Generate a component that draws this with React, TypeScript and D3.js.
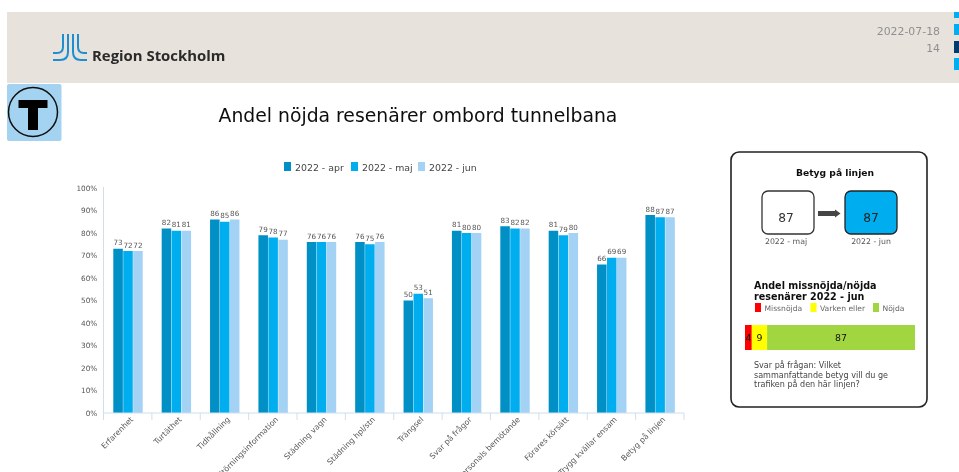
import React from "react";
import * as d3 from "d3";

const categories = ["Erfarenhet","Turtäthet","Tidhållning","Störningsinformation","Städning vagn","Städning hpl/stn","Trängsel","Svar på frågor","Personals bemötande","Förares körsätt","Trygg kvällar ensam","Betyg på linjen"];
const seriesNames = ["2022 - apr","2022 - maj","2022 - jun"];
const apr = [73,82,86,79,76,76,50,81,83,81,66,88];
const maj = [72,81,85,78,76,75,53,80,82,79,69,87];
const jun = [72,81,86,77,76,76,51,80,82,80,69,87];
const seriesValues = [apr,maj,jun];
const seriesColors = ["#0090c6","#00aeef","#a3d2f5"];
const yTicks = [0,10,20,30,40,50,60,70,80,90,100];
const stackNames = ["Missnöjda","Varken eller","Nöjda"];
const stackValues = [4,9,87];
const stackColors = ["#ff0000","#ffff00","#a2d63f"];
const question = ["Svar på frågan: Vilket","sammanfattande betyg vill du ge","trafiken på den här linjen?"];
const sideSquares = [{y:12,h:6,c:"#00aeef"},{y:24,h:11,c:"#00aeef"},{y:41,h:12,c:"#003a70"},{y:58,h:12,c:"#00aeef"}];

const FONT = "'DejaVu Sans', Verdana, sans-serif";
const y = d3.scaleLinear().domain([0,100]).range([413,188]);
const x0 = d3.scaleBand<string>().domain(categories).range([103.5,684]).paddingInner(0).paddingOuter(0);
const x1 = d3.scaleBand<number>().domain([0,1,2]).range([9.8,39.2]).paddingInner(0.04);
const sx = d3.scaleLinear().domain([0,100]).range([745,915]);
let acc = 0;
const stacked = stackValues.map((v,i)=>{const s={v,i,from:acc,to:acc+v};acc+=v;return s;});

export default function App(){
  return (
    <svg width={959} height={472} viewBox="0 0 959 472" style={{position:"absolute",left:0,top:0,background:"#fff"}} fontFamily={FONT}>
      <defs><filter id="soft" x="-5%" y="-5%" width="110%" height="110%"><feGaussianBlur stdDeviation="0.45"/></filter></defs>
      <g filter="url(#soft)">
      {/* header */}
      <rect x={7} y={12} width={952} height={71} fill="#e8e2dc"/>
      {sideSquares.map((s,i)=><rect key={i} x={954} y={s.y} width={5} height={s.h} fill={s.c}/>)}
      <text x={940} y={34.5} textAnchor="end" fontSize={10.9} fill="#8f8f8f">2022-07-18</text>
      <text x={940} y={52} textAnchor="end" fontSize={10.9} fill="#8f8f8f">14</text>
      {/* logo */}
      <g fill="none" stroke="#1f8fd0" strokeWidth={2}>
        <path d="M63 34V47Q63 53 57 53H53"/>
        <path d="M68 34V52Q68 60 60 60H53"/>
        <path d="M73 34V52Q73 60 81 60H87"/>
        <path d="M78 34V47Q78 53 84 53H87"/>
      </g>
      <text x={92} y={61} fontFamily="'Open Sans', sans-serif" fontWeight={700} fontSize={14.9} fill="#2a2a2a">Region Stockholm</text>
      {/* T icon */}
      <rect x={7} y={84} width={54.5} height={57} rx={2} fill="#a4d3f1"/>
      <circle cx={33} cy={112} r={24.5} fill="none" stroke="#111" strokeWidth={1.5}/>
      <path d="M18.5 100H47.5V108H38V130H28V108H18.5Z" fill="#000"/>
      {/* title */}
      <text x={418} y={122} textAnchor="middle" fontSize={18.8} fill="#111">Andel nöjda resenärer ombord tunnelbana</text>
      {/* legend */}
      {seriesNames.map((n,i)=>{const lx=[284,351,418][i];return <g key={n}>
        <rect x={lx} y={162} width={7} height={9} fill={seriesColors[i]}/>
        <text x={lx+11} y={170.5} fontSize={9.4} fill="#444">{n}</text></g>;})}
      {/* y axis */}
      <line x1={103.5} x2={103.5} y1={187} y2={413} stroke="#d0dfee" strokeWidth={1}/>
      {yTicks.map(t=><text key={t} x={97.3} y={y(t)+2.5} textAnchor="end" fontSize={7.3} fill="#555">{t}%</text>)}
      {/* bars */}
      {categories.map((c,ci)=><g key={c} transform={`translate(${x0(c)},0)`}>
        {seriesValues.map((vals,si)=><g key={si}>
          <rect x={x1(si)} y={y(vals[ci])} width={x1.bandwidth()} height={413-y(vals[ci])} fill={seriesColors[si]}/>
          <text x={x1(si)!+x1.bandwidth()/2} y={y(vals[ci])-3.5} textAnchor="middle" fontSize={7.2} fill="#555">{vals[ci]}</text>
        </g>)}
      </g>)}
      {/* x axis */}
      <line x1={103.5} x2={684} y1={413} y2={413} stroke="#d0dfee" strokeWidth={1.2}/>
      {[...categories.map(c=>x0(c)!),684].map((t,i)=><line key={i} x1={t} x2={t} y1={413} y2={420} stroke="#d0dfee"/>)}
      {categories.map(c=>{const px=x0(c)!+x0.bandwidth()/2+6;return <text key={c} transform={`translate(${px},420) rotate(-45)`} textAnchor="end" fontSize={7.8} fill="#555">{c}</text>;})}
      {/* panel */}
      <rect x={731} y={152} width={196} height={255} rx={8} fill="#fff" stroke="#222" strokeWidth={1.6}/>
      <text x={835} y={176} textAnchor="middle" fontSize={9.2} fontWeight={700} fill="#111">Betyg på linjen</text>
      <rect x={762} y={191} width={52} height={43} rx={6} fill="#fff" stroke="#333" strokeWidth={1.3}/>
      <rect x={845} y={191} width={52} height={43} rx={6} fill="#00aeef" stroke="#222" strokeWidth={1.3}/>
      <text x={786} y={221.5} textAnchor="middle" fontSize={12.2} fill="#333">87</text>
      <text x={871} y={221.5} textAnchor="middle" fontSize={12.2} fill="#222">87</text>
      <path d="M818 211H835V209.5L840.5 213.5L835 217.5V216H818Z" fill="#444"/>
      <text x={786} y={243.5} textAnchor="middle" fontSize={7.8} fill="#555">2022 - maj</text>
      <text x={871} y={243.5} textAnchor="middle" fontSize={7.8} fill="#555">2022 - jun</text>
      <text x={754} y={288.5} fontSize={9.6} fontWeight={700} fill="#111">Andel missnöjda/nöjda</text>
      <text x={754} y={300} fontSize={9.6} fontWeight={700} fill="#111">resenärer 2022 - jun</text>
      {stackNames.map((n,i)=>{const lx=[755,810.5,873][i];return <g key={n}>
        <rect x={lx} y={303} width={6} height={9} fill={stackColors[i]}/>
        <text x={lx+9.5} y={311} fontSize={7.6} fill="#666">{n}</text></g>;})}
      {stacked.map(s=><rect key={s.i} x={sx(s.from)} y={325} width={sx(s.to)-sx(s.from)} height={25} fill={stackColors[s.i]}/>)}
      {stacked.map(s=><text key={s.i} x={(sx(s.from)+sx(s.to))/2} y={341} textAnchor="middle" fontSize={9.4} fill="#111">{s.v}</text>)}
      {question.map((q,i)=><text key={i} x={754} y={368+i*9.5} fontSize={8.05} fill="#444">{q}</text>)}
      </g>
    </svg>
  );
}
